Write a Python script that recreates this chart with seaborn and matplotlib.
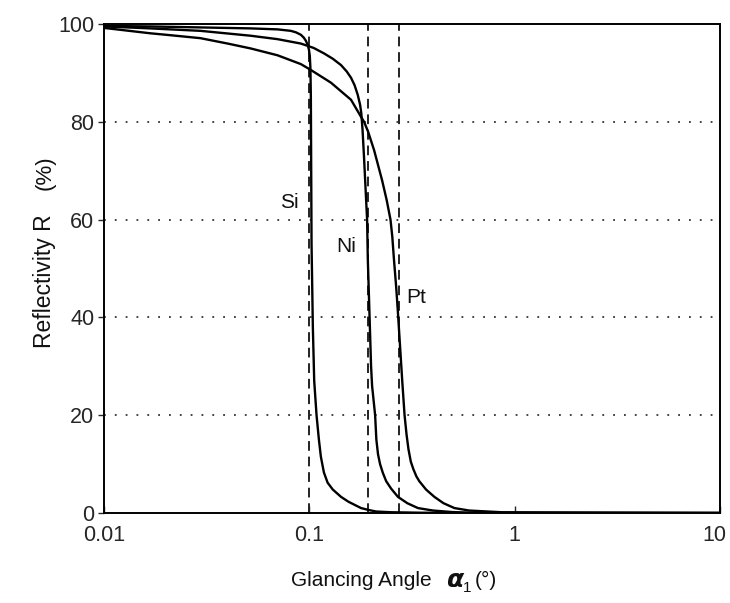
import numpy as np
import pandas as pd
import matplotlib
matplotlib.use("Agg")
import matplotlib.pyplot as plt
import matplotlib.transforms as mtransforms
import seaborn as sns

# Reflectivity curves (glancing angle in degrees, reflectivity in %)
si_angle = [0.01, 0.0168, 0.0295, 0.0518, 0.070, 0.0812, 0.086, 0.0909, 0.094,
            0.0961, 0.098, 0.0995, 0.1005, 0.1012, 0.1017, 0.1021, 0.1025, 0.1040,
            0.1056, 0.1084, 0.1113, 0.1138, 0.1177, 0.1227, 0.130, 0.1426, 0.155,
            0.1786, 0.195, 0.2114, 0.250, 0.351, 1.0, 10.0]
si_R = [99.6, 99.5, 99.3, 99.1, 98.9, 98.6, 98.3, 97.8, 97.2,
        96.6, 95.8, 94.8, 93.5, 91.0, 85.0, 70.0, 55.0, 38.0,
        27.0, 20.0, 15.0, 11.5, 8.3, 6.2, 4.8, 3.3, 2.3,
        1.0, 0.6, 0.3, 0.15, 0.05, 0.0, 0.0]

ni_angle = [0.01, 0.0168, 0.0295, 0.0518, 0.070, 0.0909, 0.105, 0.1177, 0.130,
            0.1426, 0.152, 0.1596, 0.166, 0.1721, 0.1766, 0.1790, 0.1815, 0.1845,
            0.1880, 0.1911, 0.1926, 0.1965, 0.1998, 0.2021, 0.2091, 0.2120, 0.2160,
            0.2210, 0.2280, 0.2367, 0.250, 0.270, 0.300, 0.3381, 0.400, 0.4918,
            0.600, 1.0, 10.0]
ni_R = [99.5, 99.1, 98.6, 97.6, 96.9, 96.0, 95.1, 94.0, 92.9,
        91.6, 90.3, 89.0, 87.5, 85.5, 83.5, 81.8, 78.5, 73.0,
        66.0, 60.0, 52.0, 40.0, 30.0, 26.0, 20.0, 15.0, 12.0,
        10.0, 8.2, 6.5, 5.0, 3.3, 2.0, 1.0, 0.5, 0.2,
        0.05, 0.0, 0.0]

pt_angle = [0.01, 0.0168, 0.020, 0.0295, 0.040, 0.0518, 0.070, 0.0909, 0.1017,
            0.1274, 0.1596, 0.1786, 0.1847, 0.1932, 0.2067, 0.2262, 0.2380, 0.2484,
            0.2535, 0.2581, 0.2650, 0.2700, 0.2834, 0.2909, 0.2975, 0.3040, 0.3120,
            0.3208, 0.3320, 0.3431, 0.370, 0.4062, 0.450, 0.509, 0.600, 0.864, 10.0]
pt_R = [99.2, 98.1, 97.8, 97.1, 96.0, 95.0, 93.6, 91.8, 90.6,
        88.0, 84.5, 81.0, 80.0, 78.0, 74.2, 68.0, 64.0, 60.0,
        56.5, 52.0, 46.0, 41.0, 27.0, 20.0, 16.0, 13.0, 10.5,
        9.0, 7.5, 6.5, 4.8, 3.3, 2.0, 1.0, 0.5, 0.15, 0.0]

# Critical angles (dashed markers)
critical_angles = [0.1, 0.192, 0.272]

# Curve labels and their positions
labels = ["Si", "Ni", "Pt"]
label_x = [0.080, 0.151, 0.330]
label_y = [63.4, 54.4, 44.0]

x_ticks = [0.01, 0.1, 1, 10]
x_tick_labels = ["0.01", "0.1", "1", "10"]
y_ticks = [0, 20, 40, 60, 80, 100]

df = pd.concat([
    pd.DataFrame({"angle": si_angle, "R": si_R, "element": "Si"}),
    pd.DataFrame({"angle": ni_angle, "R": ni_R, "element": "Ni"}),
    pd.DataFrame({"angle": pt_angle, "R": pt_R, "element": "Pt"}),
], ignore_index=True)

sns.set_theme(style="ticks")
plt.rcParams["font.family"] = ["Liberation Sans", "DejaVu Sans"]

fig = plt.figure(figsize=(7.30, 6.03), dpi=100)
ax = fig.add_axes([0.1425, 0.1493, 0.8438, 0.8109])

ax.set_xscale("log")

# horizontal dotted grid
for yv in [20, 40, 60, 80]:
    ax.axhline(yv, color="#333333", linestyle=(0, (1, 5)), linewidth=1.3, zorder=1)

# critical-angle dashed lines
for xc in critical_angles:
    ax.axvline(xc, color="#222222", linestyle=(0, (5, 3)), linewidth=1.4, zorder=2)

sns.lineplot(data=df, x="angle", y="R", hue="element", units="element",
             estimator=None, sort=False, palette=["black"] * 3,
             linewidth=1.7, legend=False, ax=ax, zorder=3)

for lab, lx, ly in zip(labels, label_x, label_y):
    ax.text(lx, ly, lab, fontsize=15, ha="center", va="center", color="#111111")

ax.set_xlim(0.01, 10)
ax.set_ylim(0, 100)
ax.set_xticks(x_ticks)
ax.set_xticklabels(x_tick_labels)
ax.xaxis.set_minor_locator(matplotlib.ticker.NullLocator())
ax.set_yticks(y_ticks)

ax.tick_params(axis="x", direction="in", length=5, width=1.0, labelsize=15.5, pad=9)
ax.tick_params(axis="y", direction="out", length=4, width=1.0, labelsize=15.5, pad=3)

# nudge the last x tick label so it stays inside the canvas
last_label = ax.get_xticklabels()[-1]
last_label.set_transform(last_label.get_transform() +
                         mtransforms.ScaledTranslation(-4 / 72, 0, fig.dpi_scale_trans))

for sp in ax.spines.values():
    sp.set_linewidth(1.4)
    sp.set_color("black")

ax.set_xlabel("")
ax.set_ylabel("")

# axis titles
fig.text(291 / 730, 1 - 580 / 603, "Glancing Angle", fontsize=15,
         ha="left", va="center", color="#111111")
fig.text(446 / 730, 1 - 580 / 603, "α", fontsize=18, fontweight="bold",
         fontstyle="italic", family=["DejaVu Sans"], ha="left", va="center",
         color="#111111")
fig.text(463 / 730, 1 - 588 / 603, "1", fontsize=11, ha="left", va="center",
         color="#111111")
fig.text(475 / 730, 1 - 580 / 603, "(°)", fontsize=15, ha="left", va="center",
         color="#111111")

fig.text(45 / 730, 1 - 348 / 603, "Reflectivity R", fontsize=16.5, rotation=90,
         ha="center", va="bottom", color="#111111")
fig.text(45 / 730, 1 - 173 / 603, "(%)", fontsize=16, rotation=90,
         ha="center", va="center", color="#111111")

fig.savefig("out.png", dpi=100, facecolor="white")
